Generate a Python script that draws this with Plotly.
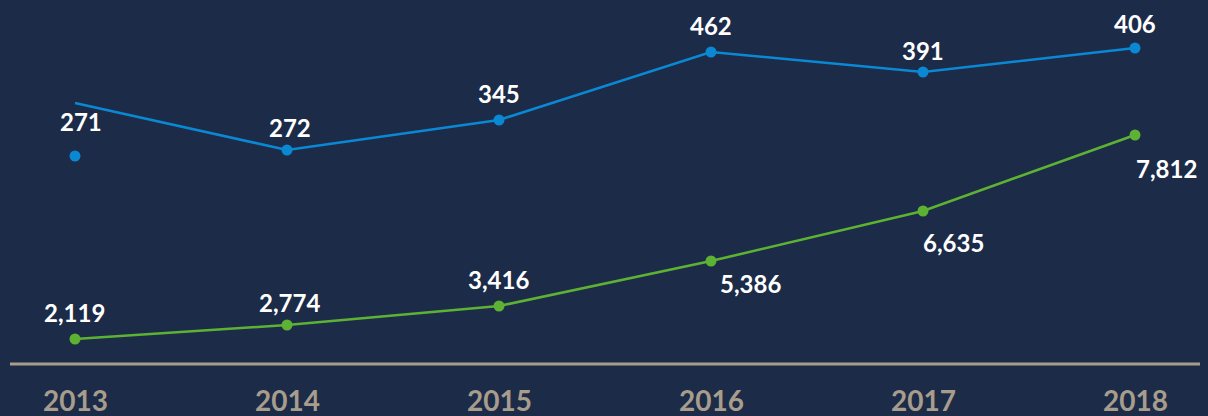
import plotly.graph_objects as go

# Data
years = ["2013", "2014", "2015", "2016", "2017", "2018"]
blue_labels = ["271", "272", "345", "462", "391", "406"]
green_labels = ["2,119", "2,774", "3,416", "5,386", "6,635", "7,812"]
# plotted levels (chart is not drawn to scale; heights above the baseline)
blue_marker_level = [208, 214, 244, 312, 292, 316]
blue_line_level = [261, 214, 244, 312, 292, 316]
green_level = [25, 39, 58, 103, 153, 229]

# label offsets (style)
blue_off = [(6, 35), (3, 23), (0, 27), (0, 27), (0, 22), (0, 25)]
green_off = [(-1, 27), (2, 23), (-1, 27), (39, -22), (30, -31), (31, -33)]

BG = "#1c2b48"
BLUE = "#0b88d3"
GREEN = "#5db233"
TAN = "#a89d8c"

x = list(range(len(years)))

fig = go.Figure()
fig.add_trace(go.Scatter(x=x, y=blue_line_level, mode="lines",
                         line=dict(color=BLUE, width=2.6), hoverinfo="skip"))
fig.add_trace(go.Scatter(x=x, y=blue_marker_level, mode="markers",
                         marker=dict(color=BLUE, size=11), hoverinfo="skip"))
fig.add_trace(go.Scatter(x=x, y=green_level, mode="lines+markers",
                         line=dict(color=GREEN, width=2.6),
                         marker=dict(color=GREEN, size=11), hoverinfo="skip"))

ann = []
for i, (t, yv, off) in enumerate(zip(blue_labels, blue_marker_level, blue_off)):
    ann.append(dict(x=i, y=yv, text=t, showarrow=False, xshift=off[0], yshift=off[1],
                    font=dict(family="Lato", size=24, color="white", weight="bold")))
for i, (t, yv, off) in enumerate(zip(green_labels, green_level, green_off)):
    ann.append(dict(x=i, y=yv, text=t, showarrow=False, xshift=off[0], yshift=off[1],
                    font=dict(family="Lato", size=24, color="white", weight="bold")))
for i, t in enumerate(years):
    ann.append(dict(x=i, y=0, text=t, showarrow=False, yshift=-36,
                    font=dict(family="Lato", size=28, color=TAN, weight="bold")))

shapes = [dict(type="line", xref="paper", yref="y", x0=10 / 1208, x1=1200 / 1208,
               y0=0, y1=0, line=dict(color=TAN, width=3))]

fig.update_layout(
    width=1208, height=416,
    margin=dict(l=0, r=0, t=0, b=0),
    paper_bgcolor=BG, plot_bgcolor=BG,
    showlegend=False,
    annotations=ann, shapes=shapes,
    xaxis=dict(range=[-75 / 212, (1208 - 75) / 212], visible=False, fixedrange=True),
    yaxis=dict(range=[-52, 364], visible=False, fixedrange=True),
)

fig.write_html("out.html", config={"displayModeBar": False},
               post_script="document.body.style.margin='0';document.body.style.padding='0';document.body.style.overflow='hidden';")
